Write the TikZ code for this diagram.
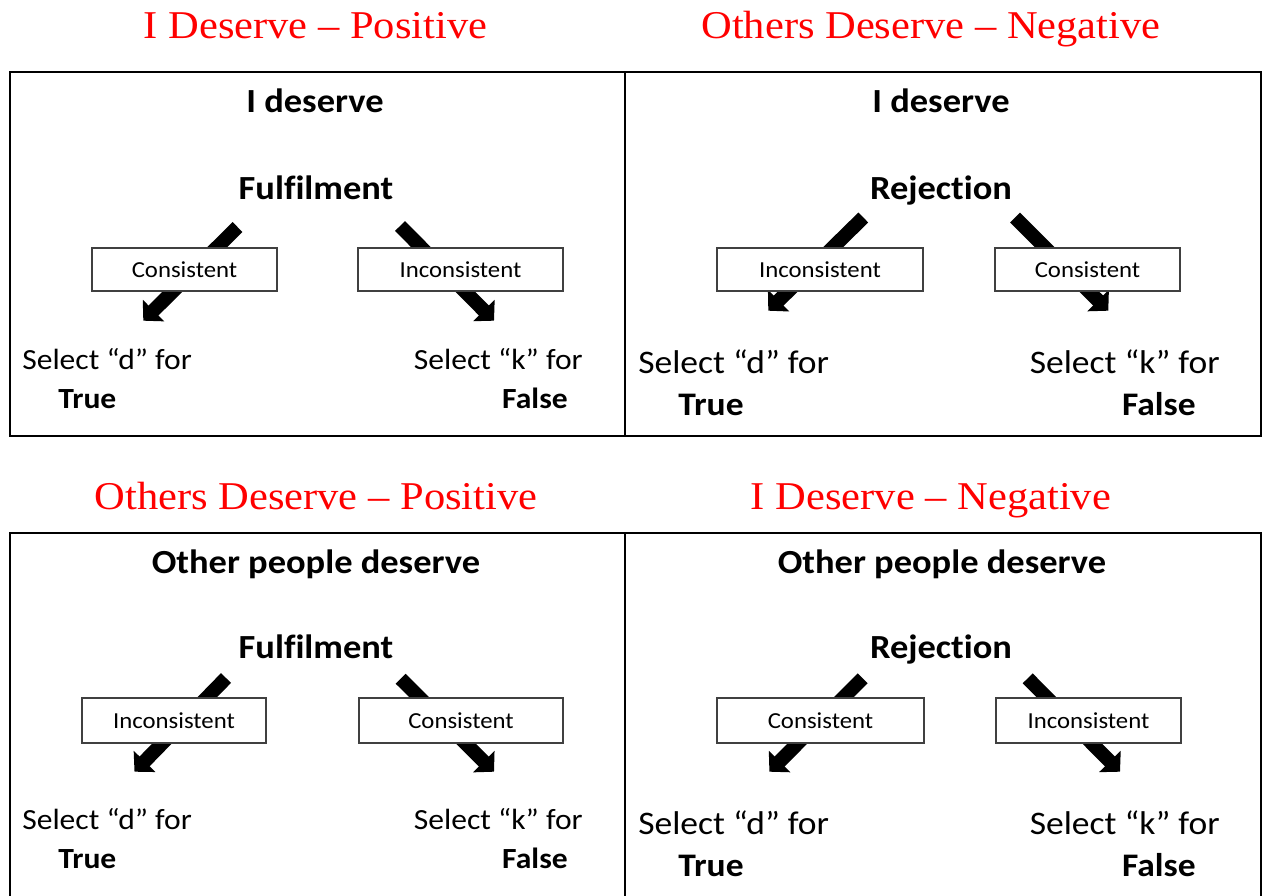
\documentclass[tikz,border=0pt]{standalone}
\usepackage{fontspec}
\setmainfont{Carlito}[FakeStretch=1.08, Ligatures=NoCommon]
\newfontfamily\titlefont{Liberation Serif}[FakeStretch=1.08]
\usetikzlibrary{arrows.meta, positioning}
\definecolor{titlered}{RGB}{255,0,0}

\begin{document}
\begin{tikzpicture}[
    x=0.025cm, y=-0.025cm,
    title/.style={text=titlered, font=\titlefont\fontsize{28}{32}\selectfont, inner sep=0pt, anchor=base},
    head/.style={font=\bfseries\fontsize{24}{28}\selectfont, inner sep=0pt, anchor=base},
    labbox/.style={draw=black!75, line width=0.8pt, fill=white, inner sep=0pt,
      minimum height=1.075cm, font=\fontsize{16.3}{19}\selectfont},
    seltext/.style={font=\fontsize{20.8}{24}\selectfont, inner sep=0pt},
    selbig/.style={font=\fontsize{23.4}{27}\selectfont, inner sep=0pt},
    bigarrow/.style={line width=0.35cm, -{Triangle[length=0.36cm, width=0.74cm]}},
    frame/.style={line width=2.1pt},
  ]

  \clip (0,0) rectangle (1267,895);
  \fill[white] (0,0) rectangle (1267,895);

  % --- titles ---
  \node[title] (t1) at (315.5,38) {I Deserve – Positive};
  \node[title] (t2) at (931,38) {Others Deserve – Negative};
  \node[title] (t3) at (316,509) {Others Deserve – Positive};
  \node[title] (t4) at (931,509) {I Deserve – Negative};

  % --- frames ---
  \draw[frame] (10,72) rectangle (1261,436);
  \draw[frame] (625,72) -- (625,436);
  \draw[frame] (10,533) rectangle (1261,910);
  \draw[frame] (625,533) -- (625,910);

  % --- arrow ends ---
  \coordinate (a1l) at (237.5,227);   \coordinate (e1l) at (143.3,320.7);
  \coordinate (a1r) at (400,226);     \coordinate (e1r) at (494,320.7);
  \coordinate (a2l) at (863.3,217.5); \coordinate (e2l) at (768.3,310.7);
  \coordinate (a2r) at (1015,217.5);  \coordinate (e2r) at (1108.3,310.7);
  \coordinate (a3l) at (226,678);     \coordinate (e3l) at (134.5,771.7);
  \coordinate (a3r) at (400.6,678.7); \coordinate (e3r) at (494,771.7);
  \coordinate (a4l) at (862.7,678.3); \coordinate (e4l) at (769.4,771.7);
  \coordinate (a4r) at (1027.7,678.3);\coordinate (e4r) at (1120,771.7);

  \foreach \i in {1,2,3,4} {
    \draw[bigarrow] (a\i l) -- (e\i l);
    \draw[bigarrow] (a\i r) -- (e\i r);
  }

  % --- panel 1: top left ---
  \node[head] (h1) at (315,112.5) {I deserve};
  \node[head] (m1) at (316,199) {Fulfilment};
  \node[labbox, minimum width=4.625cm] (bl1) at (184.5,269.5) {Consistent};
  \node[labbox, minimum width=5.125cm] (br1) at (460.5,269.5) {Inconsistent};
  \node[seltext, anchor=base west] (sd1) at (22,369) {Select “d” for};
  \node[seltext, anchor=base west, font=\bfseries\fontsize{20.8}{24}\selectfont] (st1) at (58,408) {True};
  \node[seltext, anchor=base east] (sk1) at (583,369) {Select “k” for};
  \node[seltext, anchor=base east, font=\bfseries\fontsize{20.8}{24}\selectfont] (sf1) at (568,408) {False};

  % --- panel 2: top right ---
  \node[head] (h2) at (941,112.5) {I deserve};
  \node[head] (m2) at (941,199) {Rejection};
  \node[labbox, minimum width=5.15cm] (bl2) at (820,269.5) {Inconsistent};
  \node[labbox, minimum width=4.625cm] (br2) at (1087.5,269.5) {Consistent};
  \node[selbig, anchor=base west] (sd2) at (638,373) {Select “d” for};
  \node[selbig, anchor=base west, font=\bfseries\fontsize{23.4}{27}\selectfont] (st2) at (678,415) {True};
  \node[selbig, anchor=base east] (sk2) at (1220,373) {Select “k” for};
  \node[selbig, anchor=base east, font=\bfseries\fontsize{23.4}{27}\selectfont] (sf2) at (1196,415) {False};

  % --- panel 3: bottom left ---
  \node[head] (h3) at (316,573) {Other people deserve};
  \node[head] (m3) at (316,658.5) {Fulfilment};
  \node[labbox, minimum width=4.6cm, minimum height=1.125cm] (bl3) at (174,720.5) {Inconsistent};
  \node[labbox, minimum width=5.1cm, minimum height=1.125cm] (br3) at (461,720.5) {Consistent};
  \node[seltext, anchor=base west] (sd3) at (22,829) {Select “d” for};
  \node[seltext, anchor=base west, font=\bfseries\fontsize{20.8}{24}\selectfont] (st3) at (58,868) {True};
  \node[seltext, anchor=base east] (sk3) at (583,829) {Select “k” for};
  \node[seltext, anchor=base east, font=\bfseries\fontsize{20.8}{24}\selectfont] (sf3) at (568,868) {False};

  % --- panel 4: bottom right ---
  \node[head] (h4) at (942,573) {Other people deserve};
  \node[head] (m4) at (941,658.5) {Rejection};
  \node[labbox, minimum width=5.175cm, minimum height=1.125cm] (bl4) at (820.5,720.5) {Consistent};
  \node[labbox, minimum width=4.625cm, minimum height=1.125cm] (br4) at (1088.5,720.5) {Inconsistent};
  \node[selbig, anchor=base west] (sd4) at (638,834) {Select “d” for};
  \node[selbig, anchor=base west, font=\bfseries\fontsize{23.4}{27}\selectfont] (st4) at (678,876) {True};
  \node[selbig, anchor=base east] (sk4) at (1220,834) {Select “k” for};
  \node[selbig, anchor=base east, font=\bfseries\fontsize{23.4}{27}\selectfont] (sf4) at (1196,876) {False};

\end{tikzpicture}
\end{document}
